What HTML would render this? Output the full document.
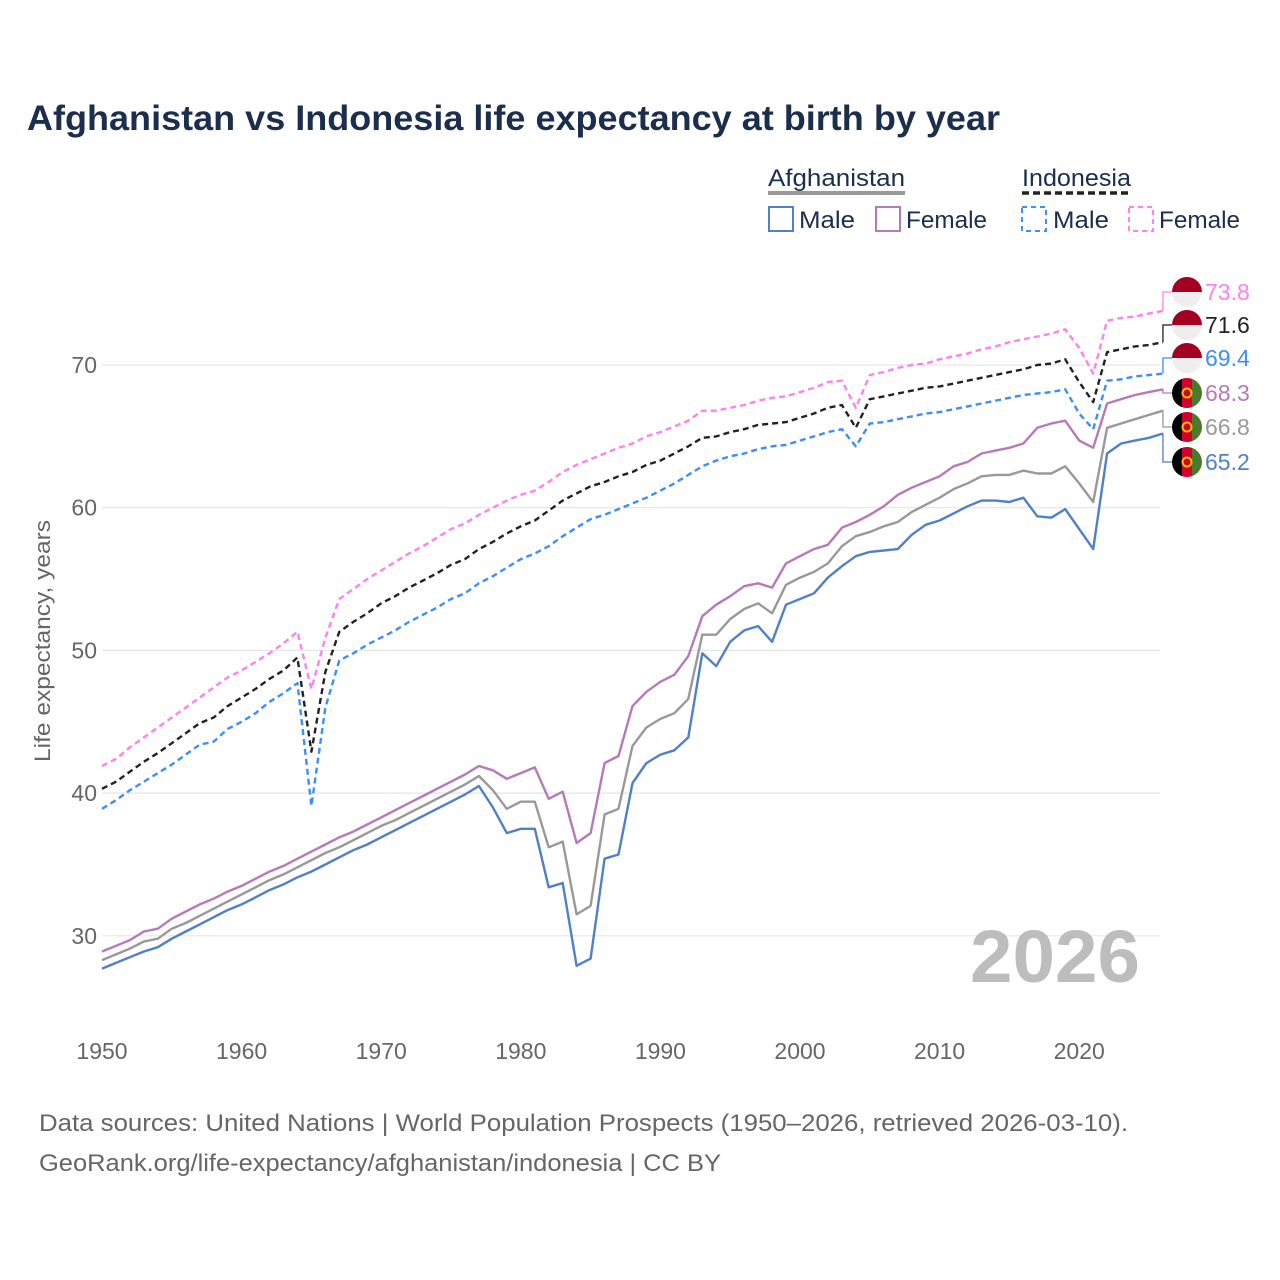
<!DOCTYPE html>
<html><head><meta charset="utf-8">
<style>
html,body{margin:0;padding:0;background:#fff;}
svg{display:block;font-family:"Liberation Sans",sans-serif;}
</style></head>
<body>
<svg id="chart" width="1280" height="1280" viewBox="0 0 1280 1280" xmlns="http://www.w3.org/2000/svg">
<text x="27" y="130" font-size="35" font-weight="bold" fill="#1b2e4e" textLength="973" lengthAdjust="spacingAndGlyphs">Afghanistan vs Indonesia life expectancy at birth by year</text>
<g>
<text x="768" y="186" font-size="24" fill="#1b2e4e" textLength="137" lengthAdjust="spacingAndGlyphs">Afghanistan</text>
<line x1="768" y1="193" x2="905" y2="193" stroke="#999" stroke-width="4"/>
<text x="1022" y="186" font-size="24" fill="#1b2e4e" textLength="109" lengthAdjust="spacingAndGlyphs">Indonesia</text>
<line x1="1022" y1="193" x2="1131" y2="193" stroke="#222" stroke-width="3.5" stroke-dasharray="7,4"/>
<g><rect x="769" y="207" width="24" height="24" fill="none" stroke="#5080c8" stroke-width="2"/><text x="799" y="228" font-size="24" fill="#1b2e4e" textLength="56" lengthAdjust="spacingAndGlyphs">Male</text></g>
<g><rect x="876" y="207" width="24" height="24" fill="none" stroke="#b77ab8" stroke-width="2"/><text x="906" y="228" font-size="24" fill="#1b2e4e" textLength="81" lengthAdjust="spacingAndGlyphs">Female</text></g>
<g><rect x="1022" y="207" width="24" height="24" fill="none" stroke="#3d8ef5" stroke-width="2" stroke-dasharray="5,4"/><text x="1053" y="228" font-size="24" fill="#1b2e4e" textLength="56" lengthAdjust="spacingAndGlyphs">Male</text></g>
<g><rect x="1129" y="207" width="24" height="24" fill="none" stroke="#ff80f0" stroke-width="2" stroke-dasharray="5,4"/><text x="1159" y="228" font-size="24" fill="#1b2e4e" textLength="81" lengthAdjust="spacingAndGlyphs">Female</text></g>
</g>
<g id="grid"></g>
<g id="yticks"></g>
<g id="xticks"></g>
<text transform="translate(50,641) rotate(-90)" text-anchor="middle" font-size="22" fill="#666" textLength="242" lengthAdjust="spacingAndGlyphs">Life expectancy, years</text>
<text x="1140" y="982" text-anchor="end" font-size="74" font-weight="bold" fill="#bdbdbd" textLength="170" lengthAdjust="spacingAndGlyphs">2026</text>
<g id="series"></g>
<g id="labels"></g>
<text x="39" y="1131" font-size="24" fill="#666" textLength="1089" lengthAdjust="spacingAndGlyphs">Data sources: United Nations | World Population Prospects (1950–2026, retrieved 2026-03-10).</text>
<text x="39" y="1171" font-size="24" fill="#666" textLength="682" lengthAdjust="spacingAndGlyphs">GeoRank.org/life-expectancy/afghanistan/indonesia | CC BY</text>
</svg>
<script>
const startYear = 1950;
const yTicks = [30, 40, 50, 60, 70];
const xTicks = [1950, 1960, 1970, 1980, 1990, 2000, 2010, 2020];
const indonesiaFemale = [41.9,42.4,43.2,43.9,44.6,45.3,46.0,46.7,47.4,48.1,48.6,49.2,49.8,50.5,51.3,47.3,50.9,53.6,54.3,55.0,55.6,56.2,56.8,57.3,57.9,58.5,58.9,59.5,60.0,60.5,60.9,61.2,61.8,62.5,63.0,63.4,63.8,64.2,64.5,65.0,65.3,65.7,66.1,66.8,66.8,67.0,67.2,67.5,67.7,67.8,68.1,68.4,68.8,68.9,67.0,69.3,69.5,69.8,70.0,70.1,70.4,70.6,70.8,71.1,71.3,71.6,71.8,72.0,72.2,72.5,71.2,69.4,73.1,73.3,73.4,73.6,73.8];
const indonesiaTotal = [40.3,40.8,41.5,42.2,42.8,43.5,44.2,44.9,45.3,46.1,46.7,47.3,48.0,48.6,49.5,42.9,48.5,51.3,52.0,52.6,53.3,53.8,54.4,54.9,55.4,56.0,56.4,57.1,57.6,58.2,58.7,59.1,59.8,60.5,61.0,61.5,61.8,62.2,62.5,63.0,63.3,63.8,64.3,64.9,65.0,65.3,65.5,65.8,65.9,66.0,66.3,66.6,67.0,67.2,65.6,67.6,67.8,68.0,68.2,68.4,68.5,68.7,68.9,69.1,69.3,69.5,69.7,70.0,70.1,70.4,68.8,67.4,70.9,71.1,71.3,71.4,71.6];
const indonesiaMale = [38.9,39.5,40.2,40.8,41.4,42.0,42.7,43.4,43.6,44.5,45.0,45.6,46.4,47.0,47.7,39.1,46.0,49.3,49.8,50.4,50.9,51.4,52.0,52.5,53.0,53.6,54.0,54.7,55.2,55.8,56.4,56.8,57.3,58.0,58.6,59.2,59.5,59.9,60.3,60.7,61.2,61.7,62.3,62.9,63.3,63.6,63.8,64.1,64.3,64.4,64.7,65.0,65.3,65.5,64.3,65.9,66.0,66.2,66.4,66.6,66.7,66.9,67.1,67.3,67.5,67.7,67.9,68.0,68.1,68.3,66.6,65.5,68.9,69.0,69.2,69.3,69.4];
const afghanFemale = [28.9,29.3,29.7,30.3,30.5,31.2,31.7,32.2,32.6,33.1,33.5,34.0,34.5,34.9,35.4,35.9,36.4,36.9,37.3,37.8,38.3,38.8,39.3,39.8,40.3,40.8,41.3,41.9,41.6,41.0,41.4,41.8,39.6,40.1,36.5,37.2,42.1,42.6,46.1,47.1,47.8,48.3,49.6,52.4,53.2,53.8,54.5,54.7,54.4,56.1,56.6,57.1,57.4,58.6,59.0,59.5,60.1,60.9,61.4,61.8,62.2,62.9,63.2,63.8,64.0,64.2,64.5,65.6,65.9,66.1,64.7,64.2,67.3,67.6,67.9,68.1,68.3];
const afghanTotal = [28.3,28.7,29.1,29.6,29.8,30.5,30.9,31.4,31.9,32.4,32.9,33.4,33.9,34.3,34.8,35.3,35.8,36.2,36.7,37.2,37.7,38.1,38.6,39.1,39.6,40.1,40.6,41.2,40.2,38.9,39.4,39.4,36.2,36.6,31.5,32.1,38.5,38.9,43.3,44.6,45.2,45.6,46.6,51.1,51.1,52.2,52.9,53.3,52.6,54.6,55.1,55.5,56.1,57.3,58.0,58.3,58.7,59.0,59.7,60.2,60.7,61.3,61.7,62.2,62.3,62.3,62.6,62.4,62.4,62.9,61.7,60.4,65.6,65.9,66.2,66.5,66.8];
const afghanMale = [27.7,28.1,28.5,28.9,29.2,29.8,30.3,30.8,31.3,31.8,32.2,32.7,33.2,33.6,34.1,34.5,35.0,35.5,36.0,36.4,36.9,37.4,37.9,38.4,38.9,39.4,39.9,40.5,39.0,37.2,37.5,37.5,33.4,33.7,27.9,28.4,35.4,35.7,40.7,42.1,42.7,43.0,43.9,49.8,48.9,50.6,51.4,51.7,50.6,53.2,53.6,54.0,55.1,55.9,56.6,56.9,57.0,57.1,58.1,58.8,59.1,59.6,60.1,60.5,60.5,60.4,60.7,59.4,59.3,59.9,58.5,57.1,63.8,64.5,64.7,64.9,65.2];

const NS = 'http://www.w3.org/2000/svg';
function xScale(yr){ return 102 + (yr - 1950) * 13.96; }
function yScale(v){ return 365 + (70 - v) * 14.27; }
function mk(tag, attrs, parent){ const e = document.createElementNS(NS, tag); for (const k in attrs) e.setAttribute(k, attrs[k]); parent.appendChild(e); return e; }

const grid = document.getElementById('grid');
const yt = document.getElementById('yticks');
yTicks.forEach(v => {
  const l = mk('line', {x1: 102, x2: 1160, y1: yScale(v), y2: yScale(v), stroke: '#e6e6e6', 'stroke-width': 1.2}, grid);
  
  
  const t = mk('text', {x: 97, y: yScale(v) + 8, 'text-anchor': 'end', 'font-size': 23, fill: '#666'}, yt);
  t.textContent = v;
  
  
});
const xt = document.getElementById('xticks');
xTicks.forEach(yr => {
  const t = mk('text', {x: xScale(yr), y: 1059, 'text-anchor': 'middle', 'font-size': 23, fill: '#666'}, xt);
  t.textContent = yr;
  
  
});

const seriesDefs = [
  {data: afghanMale, color: '#5080c8', dash: null, name: 'line-afghanistan-male', label: 462, flag: 'af', lc: '#5080c8'},
  {data: afghanTotal, color: '#999999', dash: null, name: 'line-afghanistan-total', label: 427, flag: 'af', lc: '#999'},
  {data: afghanFemale, color: '#b77ab8', dash: null, name: 'line-afghanistan-female', label: 393, flag: 'af', lc: '#b77ab8'},
  {data: indonesiaMale, color: '#3d8ef5', dash: '6,4', name: 'line-indonesia-male', label: 358, flag: 'id', lc: '#3d8ef5'},
  {data: indonesiaTotal, color: '#222222', dash: '6,4', name: 'line-indonesia-total', label: 325, flag: 'id', lc: '#222'},
  {data: indonesiaFemale, color: '#ff80f0', dash: '6,4', name: 'line-indonesia-female', label: 292, flag: 'id', lc: '#ff80f0'}
];
const sg = document.getElementById('series');
const lg = document.getElementById('labels');
seriesDefs.forEach(s => {
  const d = s.data.map((v, i) => (i ? 'L' : 'M') + xScale(startYear + i).toFixed(1) + ' ' + yScale(v).toFixed(1)).join(' ');
  const p = mk('path', {d: d, fill: 'none', stroke: s.color, 'stroke-width': 2.4, 'stroke-linejoin': 'round'}, sg);
  if (s.dash) p.setAttribute('stroke-dasharray', s.dash);
  
  
  const last = s.data[s.data.length - 1];
  const ex = xScale(startYear + s.data.length - 1), ey = yScale(last);
  const lead = mk('path', {d: `M${ex} ${ey} V${s.label} H1173`, fill: 'none', stroke: s.color, 'stroke-width': 1.3}, lg);
  
  
  const g = mk('g', {}, lg);
  
  
  const cx = 1187, cy = s.label, r = 15;
  const cid = 'c' + s.name;
  const cp = mk('clipPath', {id: cid}, g);
  mk('circle', {cx: cx, cy: cy, r: r}, cp);
  if (s.flag === 'id') {
    mk('rect', {x: cx - r, y: cy - r, width: 2 * r, height: r, fill: '#a50021', 'clip-path': `url(#${cid})`}, g);
    mk('rect', {x: cx - r, y: cy, width: 2 * r, height: r, fill: '#eeeeee', 'clip-path': `url(#${cid})`}, g);
  } else {
    mk('rect', {x: cx - r, y: cy - r, width: 10, height: 2 * r, fill: '#000', 'clip-path': `url(#${cid})`}, g);
    mk('rect', {x: cx - 5, y: cy - r, width: 10, height: 2 * r, fill: '#d3002a', 'clip-path': `url(#${cid})`}, g);
    mk('rect', {x: cx + 5, y: cy - r, width: 10, height: 2 * r, fill: '#4a7a2f', 'clip-path': `url(#${cid})`}, g);
    mk('circle', {cx: cx, cy: cy, r: 4.5, fill: 'none', stroke: '#f5c400', 'stroke-width': 2}, g);
  }
  const t = mk('text', {x: 1205, y: s.label + 8, 'font-size': 23, fill: s.lc}, lg);
  t.textContent = last.toFixed(1);
  
  
});
</script>
</body></html>
